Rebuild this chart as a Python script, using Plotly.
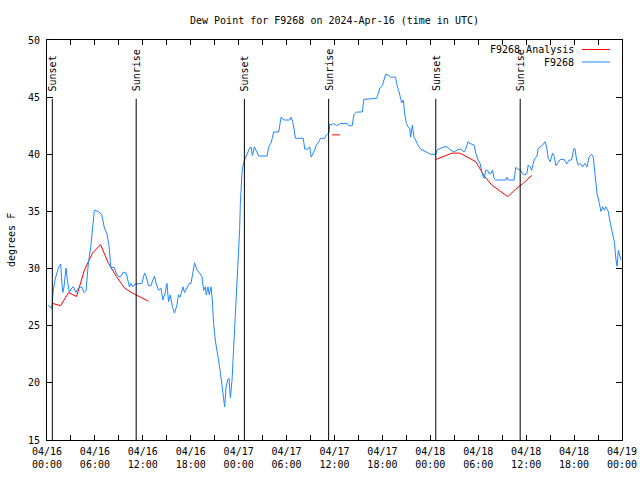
import plotly.graph_objects as go
import pandas as pd

# ---------------- data ----------------
base_time = "2024-04-16 00:00"

obs_hours = [0.16, 0.59, 0.79, 1.00, 1.42, 1.72, 1.84, 1.97, 2.13, 2.38, 2.55, 2.80, 3.10, 3.30, 3.64, 3.93,
             4.35, 4.64, 4.89, 5.18, 5.48, 5.73, 5.93, 6.44, 6.86, 7.19, 7.49, 7.78, 7.99, 8.40, 8.66, 8.94,
             9.24, 9.57, 9.91, 10.12, 10.32, 10.50, 10.75, 11.04, 11.45, 11.88, 12.21, 12.42, 12.71, 13.01,
             13.26, 13.46, 13.67, 13.96, 14.26, 14.51, 14.80, 15.02, 15.22, 15.43, 15.72, 15.97, 16.27, 16.47,
             16.68, 17.02, 17.22, 17.52, 17.81, 18.03, 18.23, 18.48, 18.78, 19.07, 19.41, 19.61, 19.82, 19.94,
             20.16, 20.32, 20.53, 20.70, 20.86, 21.07, 21.36, 21.61, 21.83, 22.04, 22.24, 22.42, 22.62, 22.79,
             22.96, 23.17, 23.37, 23.58, 23.80, 24.00, 24.12, 24.21, 24.30, 24.42, 24.62, 24.84, 25.05, 25.38,
             25.55, 25.72, 25.97, 26.22, 26.51, 27.56, 27.76, 28.06, 28.39, 29.01, 29.31, 29.64, 30.39, 30.57,
             30.82, 31.11, 32.08, 32.28, 32.65, 32.90, 33.08, 33.41, 33.74, 34.03, 34.25, 34.75, 35.00, 35.29,
             35.41, 35.71, 35.91, 36.25, 36.75, 37.59, 37.80, 38.22, 38.42, 38.76, 39.48, 39.68, 41.27, 41.48,
             41.68, 41.99, 42.19, 42.40, 42.81, 43.03, 43.65, 43.87, 44.07, 44.28, 44.41, 44.62, 44.78, 45.00,
             45.20, 45.41, 45.53, 45.75, 45.95, 46.16, 46.45, 46.79, 47.20, 47.63, 48.04, 48.67, 48.88, 49.71,
             50.14, 50.47, 50.97, 51.39, 51.81, 52.22, 52.43, 52.72, 52.97, 53.48, 53.69, 53.98, 54.23, 54.53,
             54.73, 54.94, 55.16, 55.36, 55.57, 55.78, 55.98, 56.20, 57.45, 57.58, 57.74, 58.49, 58.70, 58.99,
             59.33, 59.54, 59.83, 60.09, 60.25, 60.50, 60.68, 60.88, 61.09, 61.34, 61.50, 61.76, 62.06, 62.35,
             62.56, 62.76, 63.01, 63.31, 63.51, 63.72, 64.01, 64.26, 64.76, 65.07, 65.39, 65.69, 65.94, 66.11,
             66.32, 66.52, 66.77, 67.07, 67.36, 67.61, 67.90, 68.20, 68.40, 68.62, 68.87, 69.16, 69.37, 69.58,
             69.78, 69.99, 70.28, 70.53, 70.84, 71.04, 71.25, 71.38, 71.54, 71.75, 71.88]

obs_values = [26.8, 26.5, 28.1, 29.0, 30.05, 30.4, 29.0, 27.9, 28.4, 30.05, 29.0, 27.9, 28.3, 28.4, 27.9, 28.3,
              28.4, 27.9, 28.1, 30.5, 31.9, 34.0, 35.1, 35.0, 34.7, 33.55, 33.1, 31.9, 30.1, 30.1, 29.6, 29.3,
              29.3, 29.7, 29.6, 29.0, 28.4, 28.7, 28.4, 28.65, 28.7, 28.7, 29.6, 29.3, 28.5, 28.5,
              29.0, 29.35, 28.7, 28.1, 28.3, 27.25, 27.9, 28.7, 27.1, 27.7, 26.6, 26.1, 26.8, 27.7,
              27.5, 28.4, 27.9, 28.3, 28.7, 28.7, 29.4, 30.5, 29.9, 29.6, 29.3, 28.1, 28.4, 27.7,
              28.4, 27.7, 28.4, 27.25, 25.2, 23.75, 22.6, 21.4, 20.25, 18.8, 17.9, 19.6, 20.25, 20.4,
              18.7, 20.25, 23.1, 24.9, 28.1, 30.75, 33.4, 35.7, 37.3, 38.4, 39.3, 39.7, 39.9, 40.55,
              40.65, 39.9, 40.65, 40.2, 39.85, 39.85, 40.65, 41.0, 41.95, 41.95, 43.25, 43.0, 43.0, 43.25,
              42.7, 41.4, 41.4, 40.45, 40.45, 40.65, 39.75, 40.2, 40.8, 41.1, 41.4, 41.4, 41.7, 41.85,
              42.65, 42.55, 42.7, 42.5, 42.7, 42.7, 42.5, 42.5, 43.45, 43.7, 43.7, 44.8, 44.9, 45.3,
              45.8, 46.0, 46.5, 47.0, 46.9, 46.75, 46.75, 45.9, 45.5, 45.0, 44.5, 44.75, 43.6, 42.7,
              42.4, 42.3, 41.5, 42.55, 41.5, 41.25, 40.8, 40.45, 40.3, 40.2, 40.0, 40.0, 40.4, 40.65,
              40.65, 40.4, 40.2, 40.4, 40.45, 40.2, 40.45, 41.1, 40.95, 40.8, 40.1, 39.5, 39.2, 38.2,
              37.9, 38.6, 38.6, 38.3, 38.3, 38.6, 37.9, 37.75, 37.75, 38.0, 37.75, 37.75, 38.85, 38.7,
              38.6, 38.3, 38.2, 38.3, 39.05, 38.9, 38.6, 39.2, 39.65, 39.8, 40.5, 40.65, 40.8, 41.1,
              40.65, 39.65, 39.35, 40.1, 39.8, 39.0, 39.35, 39.55, 39.55, 39.15, 39.5, 39.5, 40.45, 40.5,
              39.5, 39.05, 39.2, 38.9, 39.2, 38.9, 39.8, 40.0, 39.75, 38.05, 36.6, 35.7, 35.0, 35.4,
              35.1, 35.4, 35.0, 34.0, 33.1, 32.35, 30.75, 30.2, 31.6, 30.9, 30.75]

# analysis (hourly, None = gap)
ana_hours = [0.7, 1.7, 2.7, 3.7, 4.7, 5.7, 6.7, 7.7, 8.7, 9.7, 10.7, 11.7, 12.7,
             30.0,
             35.7, 36.7,
             42.0,
             48.7, 49.7, 50.7, 51.7, 52.7, 53.7, 54.7, 55.7, 56.7, 57.7, 58.7, 59.7, 60.7]
ana_values = [26.95, 26.75, 27.9, 27.55, 29.9, 31.35, 32.1, 30.45, 29.3, 28.3, 27.85, 27.5, 27.15,
              None,
              41.7, 41.7,
              None,
              39.55, 39.85, 40.1, 40.1, 39.75, 39.35, 38.15, 37.3, 36.8, 36.3, 36.95, 37.5, 38.15]

sun_times = ["2024-04-16 00:40", "2024-04-16 11:10", "2024-04-17 00:43",
             "2024-04-17 11:16", "2024-04-18 00:41", "2024-04-18 11:15"]
sun_labels = ["Sunset", "Sunrise", "Sunset", "Sunrise", "Sunset", "Sunrise"]

tick_times = pd.date_range("2024-04-16 00:00", "2024-04-19 00:00", freq="3h")
title_text = "Dew Point for F9268 on 2024-Apr-16 (time in UTC)"
y_title = "degrees F"
series_names = ["F9268 Analysis", "F9268"]

# ---------------- figure ----------------
t0 = pd.Timestamp(base_time)
obs_t = [t0 + pd.Timedelta(hours=h) for h in obs_hours]
ana_t = [t0 + pd.Timedelta(hours=h) for h in ana_hours]

FONT = "DejaVu Sans Mono"
BLUE = "#1e88ff"
RED = "#ff0000"

# plot area on page: x 47..622, y 40..440 (body margin removed by post_script)
ML, MT = 47, 40
PW, PH = 575.0, 400.0
MR = 640 - ML - PW
MB = 480 - MT - PH

fig = go.Figure()
fig.add_trace(go.Scatter(x=ana_t, y=ana_values, mode="lines", name=series_names[0],
                         line=dict(color=RED, width=1), connectgaps=False))
fig.add_trace(go.Scatter(x=obs_t, y=obs_values, mode="lines", name=series_names[1],
                         line=dict(color=BLUE, width=1)))

tickvals = list(tick_times)
ticktext = [t.strftime("%m/%d<br>%H:%M") if t.hour % 6 == 0 else "" for t in tick_times]

for st, lab in zip(sun_times, sun_labels):
    fig.add_shape(type="line", xref="x", yref="y", x0=st, x1=st, y0=15, y1=44.85,
                  line=dict(color="black", width=1))
    fig.add_annotation(x=st, y=45.35, xref="x", yref="y", text=lab, showarrow=False,
                       textangle=-90, xanchor="center", yanchor="bottom",
                       font=dict(family=FONT, size=10, color="black"))

# page-pixel -> paper coordinates
def px(xp):
    return (xp - ML) / PW
def py(yp):
    return 1 - (yp - MT) / PH

for i, (nm, col) in enumerate(zip(series_names, [RED, BLUE])):
    yy = 49.5 + i * 12.5
    fig.add_annotation(x=px(576), y=py(yy), xref="paper", yref="paper", text=nm,
                       showarrow=False, xanchor="right", yanchor="middle",
                       font=dict(family=FONT, size=10, color="black"))
    fig.add_shape(type="line", xref="paper", yref="paper", x0=px(582), x1=px(610),
                  y0=py(yy), y1=py(yy), line=dict(color=col, width=1))

fig.add_annotation(x=px(11), y=0.5, xref="paper", yref="paper", text=y_title,
                   showarrow=False, textangle=-90, xanchor="center", yanchor="middle",
                   font=dict(family=FONT, size=10, color="black"))

fig.update_layout(
    width=640, height=480,
    margin=dict(l=ML, r=MR, t=MT, b=MB, autoexpand=False),
    paper_bgcolor="white", plot_bgcolor="white",
    showlegend=False,
    font=dict(family=FONT, size=10, color="black"),
    title=dict(text=title_text, x=0.5, xref="paper", y=1 - 20 / 480, yref="container",
               xanchor="center", yanchor="middle", font=dict(family=FONT, size=10, color="black")),
)
fig.update_xaxes(range=[tick_times[0], tick_times[-1]], tickmode="array", tickvals=tickvals,
                 ticktext=ticktext, ticks="inside", ticklen=5, tickcolor="black",
                 showline=True, linecolor="black", linewidth=1, mirror="ticks",
                 showgrid=False, zeroline=False, tickfont=dict(family=FONT, size=10),
                 ticklabelstandoff=2)
fig.update_yaxes(range=[15, 50], dtick=5, tick0=15, ticks="inside", ticklen=6, tickcolor="black",
                 showline=True, linecolor="black", linewidth=1, mirror="ticks",
                 showgrid=False, zeroline=False, tickfont=dict(family=FONT, size=10),
                 ticklabelstandoff=4)

fig.write_html("out.html", config={"displayModeBar": False},
               post_script="document.body.style.margin='0';")
